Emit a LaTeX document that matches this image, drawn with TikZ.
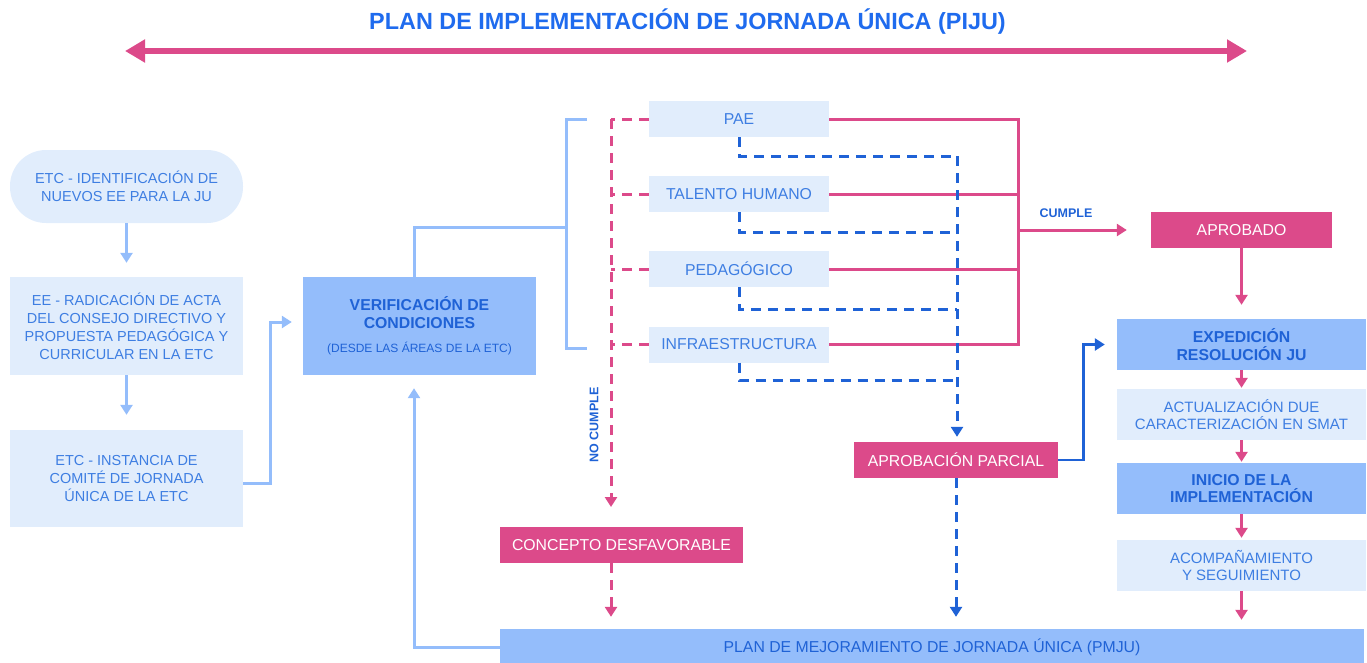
\documentclass[tikz,border=0pt]{standalone}
\usepackage{fontspec}
\setmainfont{Liberation Sans}
\usetikzlibrary{arrows.meta}
\definecolor{pinkc}{HTML}{DC4A8A}
\definecolor{lightfill}{HTML}{E1EDFC}
\definecolor{medfill}{HTML}{94BDFB}
\definecolor{darkblue}{HTML}{1F62D6}
\definecolor{boxtext}{HTML}{3E7EE2}
\definecolor{titleblue}{HTML}{1F6BEE}
\newcommand\fsLeft{\fontsize{14.5}{18}\selectfont}
\newcommand\fsCat{\fontsize{15.8}{18}\selectfont}
\newcommand\fsRight{\fontsize{15}{17.5}\selectfont}
\newcommand\fsBold{\fontsize{15.8}{17.5}\selectfont\bfseries}
\newcommand\fsSmall{\fontsize{12}{14}\selectfont\mdseries}
\newcommand\fsTiny{\fontsize{12.5}{14}\selectfont\bfseries}
\newcommand\fsTitle{\fontsize{23.4}{26}\selectfont\bfseries}
\begin{document}
\begin{tikzpicture}[x=1pt,y=-1pt,
  base/.style={inner sep=0pt,align=center},
  lightbox/.style={base,fill=lightfill,text=boxtext},
  medbox/.style={base,fill=medfill,text=darkblue},
  pinkbox/.style={base,fill=pinkc,text=white},
  catbox/.style={lightbox,minimum width=180pt,minimum height=36pt,font=\fsCat},
  rightbox/.style={minimum width=249pt,minimum height=51pt},
  tipa/.style={-{Triangle[width=12pt,length=10pt]}},
  lbline/.style={draw=medfill,line width=3pt},
  pinkline/.style={draw=pinkc,line width=3pt},
  pinkdash/.style={draw=pinkc,line width=3pt,dash pattern=on 10pt off 7pt},
  bluedash/.style={draw=darkblue,line width=3pt,dash pattern=on 10pt off 7pt},
  blueline/.style={draw=darkblue,line width=2.8pt}]
\useasboundingbox (0,0) rectangle (1367,662);

% title
\node[font=\fsTitle,text=titleblue] (title) at (687.5,22) {PLAN DE IMPLEMENTACIÓN DE JORNADA ÚNICA (PIJU)};
\coordinate (al) at (125,51);
\coordinate (ar) at (1247,51);
\draw[pinkc,line width=6pt,{Triangle[width=22pt,length=20pt]}-{Triangle[width=22pt,length=20pt]}] (al) -- (ar);

% left column
\node[lightbox,rounded corners=36pt,minimum width=233pt,minimum height=73pt,font=\fsLeft] (b1) at (126.5,186.5) {ETC - IDENTIFICACIÓN DE\\NUEVOS EE PARA LA JU};
\node[lightbox,minimum width=233pt,minimum height=98pt,font=\fsLeft] (b2) at (126.5,326) {EE - RADICACIÓN DE ACTA\\DEL CONSEJO DIRECTIVO Y\\PROPUESTA PEDAGÓGICA Y\\CURRICULAR EN LA ETC};
\node[lightbox,minimum width=233pt,minimum height=97pt,font=\fsLeft] (b3) at (126.5,478.5) {ETC - INSTANCIA DE\\COMITÉ DE JORNADA\\ÚNICA DE LA ETC};
\draw[lbline,tipa,shorten >=14pt] (b1.south) -- (b2.north);
\draw[lbline,tipa,shorten >=15pt] (b2.south) -- (b3.north);

% verification
\node[medbox,minimum width=233pt,minimum height=98pt,font=\fsBold] (verif) at (419.5,326) {VERIFICACIÓN DE\\CONDICIONES\\[7pt]\fsSmall (DESDE LAS ÁREAS DE LA ETC)};
\draw[lbline,tipa] ([yshift=-4.5pt]b3.east) -- ++(27,0) |- ([xshift=-11pt,yshift=4pt]verif.west);

% bracket
\coordinate (bm) at (566,227);
\coordinate (bt) at (566,119);
\coordinate (bb) at (566,348);
\coordinate (bt1) at (587,119);
\coordinate (bb1) at (587,348);
\draw[lbline] ([xshift=-5.5pt]verif.north) |- (bm);
\draw[lbline,line join=miter] (bt1) -- (bt) -- (bb) -- (bb1);

% categories
\node[catbox] (pae) at (739,119) {PAE};
\node[catbox] (th) at (739,194) {TALENTO HUMANO};
\node[catbox] (ped) at (739,269) {PEDAGÓGICO};
\node[catbox] (inf) at (739,344.5) {INFRAESTRUCTURA};

% no cumple
\coordinate (ptop) at (611,119);
\coordinate (ncend) at (611,507);
\draw[pinkdash,tipa] (ptop) -- (ncend);
\foreach \n in {pae,th,ped,inf}{\draw[pinkdash] (\n.west) -- (\n.west -| ptop);}
\node[rotate=90,font=\fsTiny,text=darkblue] (nc) at (594,425) {NO CUMPLE};

% cumple
\coordinate (vt) at (1018,119);
\coordinate (cj) at (1018,230);
\draw[pinkline,line join=miter] (pae.east) -| (inf.east -| vt) -- (inf.east);
\draw[pinkline] (th.east) -- (th.east -| vt);
\draw[pinkline] (ped.east) -- (ped.east -| vt);
\node[pinkbox,minimum width=181pt,minimum height=36pt,font=\fsCat] (apr) at (1241.5,230) {APROBADO};
\draw[pinkline,tipa] (cj) -- ([xshift=-24pt]apr.west);
\node[font=\fsTiny,text=darkblue] (cl) at (1066,213) {CUMPLE};

% partial
\node[pinkbox,minimum width=204pt,minimum height=36pt,font=\fsCat] (ap) at (956,460) {APROBACIÓN PARCIAL};
\coordinate (bx) at (957,156);
\draw[bluedash] (pae.south) |- (bx);
\draw[bluedash] (th.south) |- (957,232);
\draw[bluedash] (ped.south) |- (957,309);
\draw[bluedash] (inf.south) |- (957,380);
\draw[bluedash,tipa,shorten >=5pt] (bx) -- (bx |- ap.north);

% right column
\node[medbox,rightbox,font=\fsBold] (exp) at (1241.5,344.5) {EXPEDICIÓN\\RESOLUCIÓN JU};
\node[lightbox,rightbox,font=\fsRight] (act) at (1241.5,414.5) {ACTUALIZACIÓN DUE\\CARACTERIZACIÓN EN SMAT};
\node[medbox,rightbox,font=\fsBold] (ini) at (1241.5,488.5) {INICIO DE LA\\IMPLEMENTACIÓN};
\node[lightbox,rightbox,font=\fsRight] (aco) at (1241.5,565.5) {ACOMPAÑAMIENTO\\Y SEGUIMIENTO};
\draw[pinkline,tipa,shorten >=14pt] (apr.south) -- (exp.north);
\draw[pinkline,tipa,shorten >=1pt] (exp.south) -- (act.north);
\draw[pinkline,tipa,shorten >=1pt] (act.south) -- (ini.north);
\draw[pinkline,tipa,shorten >=2pt] (ini.south) -- (aco.north);
\draw[blueline,tipa] (ap.east) -- ++(25,0) |- ([xshift=-12pt]exp.west);

% bottom
\node[medbox,minimum width=864pt,minimum height=37pt,font=\fsCat] (pmju) at (932,647.5) {PLAN DE MEJORAMIENTO DE JORNADA ÚNICA (PMJU)};
\node[pinkbox,minimum width=243pt,minimum height=36pt,font=\fsCat] (cd) at (621.5,545) {CONCEPTO DESFAVORABLE};
\draw[pinkline,tipa,shorten >=9pt] (aco.south) -- (aco.south |- pmju.north);
\draw[pinkdash,tipa,shorten >=12pt] (cd.south -| ptop) -- (ptop |- pmju.north);
\draw[bluedash,tipa,shorten >=12pt] (ap.south) -- (ap.south |- pmju.north);
\draw[lbline,tipa,shorten >=13pt] (pmju.west) -| ([xshift=-5.5pt]verif.south);
\end{tikzpicture}
\end{document}
